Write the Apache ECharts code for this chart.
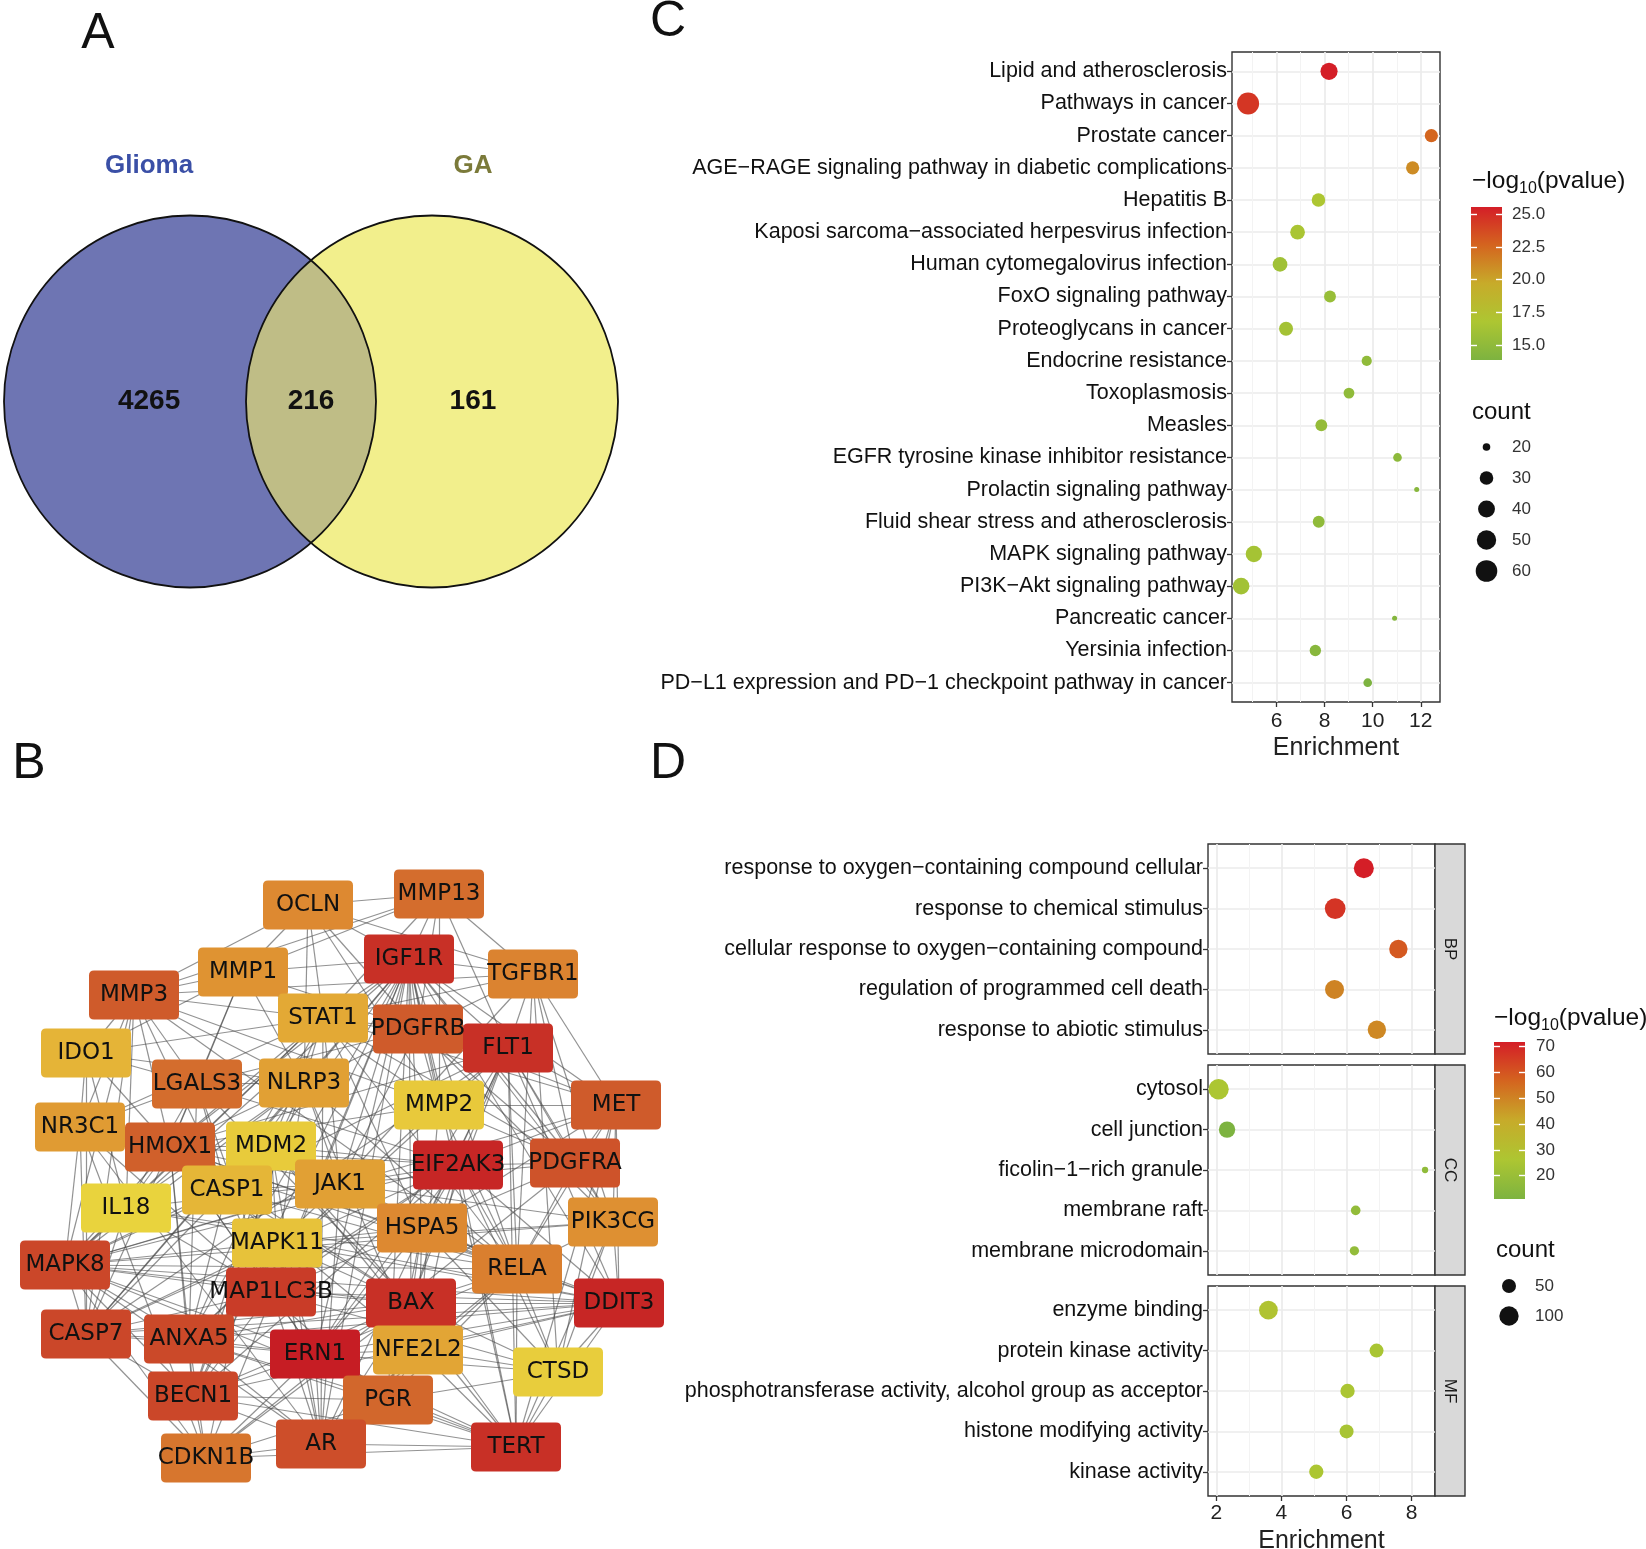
<!DOCTYPE html>
<html><head><meta charset="utf-8">
<script src="https://cdn.jsdelivr.net/npm/echarts@6/dist/echarts.min.js"></script>
<style>html,body{margin:0;padding:0;background:#fff}#c{width:1646px;height:1549px}</style>
</head><body><div id="c"></div>
<script>
// ---------------- DATA ----------------
// Panel A (Venn)
const vennSets = ['Glioma', 'GA'];
const vennCounts = [4265, 216, 161];          // Glioma only, both, GA only

// Panel C (KEGG)
const catC = ['Lipid and atherosclerosis','Pathways in cancer','Prostate cancer',
 'AGE\u2212RAGE signaling pathway in diabetic complications','Hepatitis B',
 'Kaposi sarcoma\u2212associated herpesvirus infection','Human cytomegalovirus infection',
 'FoxO signaling pathway','Proteoglycans in cancer','Endocrine resistance','Toxoplasmosis',
 'Measles','EGFR tyrosine kinase inhibitor resistance','Prolactin signaling pathway',
 'Fluid shear stress and atherosclerosis','MAPK signaling pathway','PI3K\u2212Akt signaling pathway',
 'Pancreatic cancer','Yersinia infection','PD\u2212L1 expression and PD\u22121 checkpoint pathway in cancer'];
const enrichC = [8.18, 4.81, 12.44, 11.66, 7.74, 6.87, 6.14, 8.22, 6.39, 9.75, 9.01, 7.86, 11.03, 11.83, 7.75, 5.05, 4.52, 10.91, 7.61, 9.79];
const pvalC   = [25.58, 24.6, 22.6, 21.0, 16.8, 16.6, 16.0, 15.5, 16.2, 15.0, 15.0, 15.3, 14.8, 14.5, 15.0, 16.3, 16.1, 14.3, 14.5, 13.84];
const countC  = [41, 62, 29, 29, 30, 33, 33, 26, 31, 23, 24, 26, 21, 19, 26, 38, 39, 19, 25, 21];
const xTicksC = [6, 8, 10, 12];
const cbTicksC = [15, 17.5, 20, 22.5, 25];
const sizeLegC = [20, 30, 40, 50, 60];

// Panel D (GO)
const goGroups = ['BP', 'CC', 'MF'];
const catBP = ['response to oxygen\u2212containing compound cellular','response to chemical stimulus',
 'cellular response to oxygen\u2212containing compound','regulation of programmed cell death','response to abiotic stimulus'];
const enrichBP = [6.53, 5.65, 7.59, 5.63, 6.93];
const pvalBP   = [71.7, 67, 59, 50, 49];
const countBP  = [108, 117, 89, 96, 89];
const catCC = ['cytosol','cell junction','ficolin\u22121\u2212rich granule','membrane raft','membrane microdomain'];
const enrichCC = [2.07, 2.33, 8.41, 6.28, 6.24];
const pvalCC   = [26, 11, 17, 18, 18];
const countCC  = [112, 69, 23, 28, 27];
const catMF = ['enzyme binding','protein kinase activity','phosphotransferase activity, alcohol group as acceptor',
 'histone modifying activity','kinase activity'];
const enrichMF = [3.6, 6.92, 6.03, 6.0, 5.07];
const pvalMF   = [28, 25, 25.5, 24.5, 26];
const countMF  = [93, 50, 52, 50, 52];
const xTicksD = [2, 4, 6, 8];
const cbTicksD = [20, 30, 40, 50, 60, 70];
const sizeLegD = [50, 100];

// Panel B (PPI network)
const geneNames = ['OCLN','MMP13','IGF1R','TGFBR1','MMP1','MMP3','STAT1','PDGFRB','FLT1','IDO1',
 'LGALS3','NLRP3','MMP2','MET','NR3C1','HMOX1','MDM2','EIF2AK3','PDGFRA','CASP1',
 'JAK1','IL18','PIK3CG','HSPA5','MAPK11','MAPK8','RELA','MAP1LC3B','BAX','DDIT3',
 'CASP7','ANXA5','ERN1','NFE2L2','CTSD','BECN1','PGR','AR','TERT','CDKN1B'];
// layout positions (network layout units)
const geneX = [308,439,409,533,243,134,323,418,508,86, 197,304,439,616,80,170,271,458,575,227,
 340,126,613,422,277,65,517,271,411,619, 86,189,315,418,558,193,388,321,516,206];
const geneY = [905,894,959,974,972,995,1018,1029,1048,1053, 1084,1083,1105,1105,1127,1147,1146,1165,1163,1190,
 1184,1208,1222,1228,1243,1265,1269,1292,1303,1303, 1334,1339,1354,1350,1372,1396,1400,1444,1447,1458];
// hub score (rank) 0 = low, 1 = high
const geneScore = [0.38,0.53,0.88,0.41,0.32,0.63,0.2,0.63,0.88,0.15, 0.53,0.25,0.05,0.63,0.28,0.6,0.04,0.94,0.67,0.14,
 0.25,0.0,0.34,0.38,0.08,0.74,0.43,0.8,0.88,0.94, 0.74,0.73,1.0,0.22,0.03,0.74,0.56,0.7,0.88,0.48];
const geneEdges = [
 ['IGF1R','MMP13 OCLN TGFBR1 PDGFRB FLT1 MET PDGFRA BAX ERN1 MAP1LC3B HSPA5 RELA JAK1 STAT1 MMP1 NLRP3 EIF2AK3 DDIT3 TERT AR PGR BECN1 MAPK8 HMOX1 ANXA5 CDKN1B CASP7 MDM2 PIK3CG MMP2'],
 ['FLT1','PDGFRB MET PDGFRA MMP2 TGFBR1 MMP13 BAX ERN1 DDIT3 HSPA5 RELA PIK3CG MAPK8 HMOX1 TERT STAT1 AR CASP7 EIF2AK3 ANXA5'],
 ['EIF2AK3','ERN1 DDIT3 HSPA5 BAX MAP1LC3B BECN1 CASP7 MAPK8 NFE2L2 PDGFRA MET HMOX1 ANXA5 RELA TERT JAK1 LGALS3 CTSD MDM2'],
 ['BAX','ERN1 DDIT3 MAP1LC3B BECN1 CASP7 MAPK8 ANXA5 CASP1 MDM2 AR TERT PGR HSPA5 HMOX1 CDKN1B RELA CTSD NFE2L2 LGALS3 MAPK11'],
 ['ERN1','DDIT3 HSPA5 MAP1LC3B BECN1 MAPK8 CASP7 ANXA5 AR TERT NFE2L2 HMOX1 PGR CDKN1B RELA MAPK11 CTSD'],
 ['DDIT3','HSPA5 MAPK8 CASP7 ANXA5 MAP1LC3B BECN1 HMOX1 NFE2L2 TERT RELA MAPK11 PIK3CG MET CTSD IL18'],
 ['TERT','AR PGR BECN1 CDKN1B MAPK8 CTSD RELA MDM2 ANXA5 MET PIK3CG NFE2L2'],
 ['MAP1LC3B','BECN1 CASP7 ANXA5 MAPK8 HMOX1 CTSD LGALS3 NLRP3 CASP1 IL18 MAPK11 HSPA5 AR'],
 ['MAPK8','CASP7 ANXA5 BECN1 MAPK11 JAK1 RELA HMOX1 NR3C1 IL18 CASP1 NLRP3 PIK3CG MET CDKN1B AR STAT1'],
 ['CASP7','ANXA5 BECN1 CASP1 NLRP3 IL18 MAPK11 CDKN1B HMOX1 MMP3 NR3C1 IDO1'],
 ['ANXA5','BECN1 CDKN1B LGALS3 MMP2 AR PGR HMOX1 CASP1 NLRP3'],
 ['BECN1','CDKN1B AR PGR HMOX1 MDM2 NLRP3 MAPK11'],
 ['AR','PGR CDKN1B NR3C1 MDM2 RELA STAT1 JAK1 NFE2L2 MAPK11'],
 ['PDGFRA','PDGFRB MET PIK3CG MMP2 JAK1 STAT1 RELA TGFBR1 HSPA5 CDKN1B'],
 ['PDGFRB','MET PIK3CG MMP2 STAT1 JAK1 MMP13 MMP1 TGFBR1 OCLN NLRP3 LGALS3'],
 ['MET','PIK3CG MMP2 RELA STAT1 HSPA5 TGFBR1 CTSD'],
 ['MMP3','MMP1 MMP13 MMP2 OCLN IDO1 NR3C1 LGALS3 HMOX1 STAT1 IL18 CASP1 NLRP3 TGFBR1 RELA MAPK8'],
 ['HMOX1','NFE2L2 NR3C1 IDO1 LGALS3 NLRP3 MDM2 CASP1 IL18 RELA STAT1 JAK1 MMP1 MMP2'],
 ['MMP13','OCLN MMP1 TGFBR1 MMP2 STAT1'],
 ['OCLN','MMP1 STAT1 MMP2 TGFBR1 NLRP3'],
 ['TGFBR1','STAT1 RELA PIK3CG JAK1 CTSD'],
 ['MMP1','STAT1 MMP2 LGALS3 NLRP3 IDO1'],
 ['STAT1','JAK1 IDO1 NLRP3 RELA IL18 CASP1 NR3C1 MDM2 HSPA5'],
 ['NLRP3','CASP1 IL18 LGALS3 JAK1 NFE2L2 RELA IDO1'],
 ['RELA','NFE2L2 HSPA5 PIK3CG JAK1 CASP1 IL18 MMP2 CTSD PGR NR3C1 MDM2'],
 ['HSPA5','NFE2L2 JAK1 CTSD PGR MAPK11'],
 ['JAK1','PIK3CG MAPK11 CASP1 IL18 MDM2'],
 ['CDKN1B','MDM2 PGR NR3C1'],
 ['PGR','NR3C1 NFE2L2 CTSD'],
 ['NR3C1','IDO1 LGALS3'],
 ['MDM2','MAPK11 CASP1'],
 ['LGALS3','CASP1 IL18 IDO1'],
 ['MAPK11','CASP1 PIK3CG'],
 ['NFE2L2','CTSD MMP2'],
 ['CTSD','PIK3CG'],
 ['IL18','IDO1']
];

// ---------------- STYLE / LAYOUT ----------------
const FONT = '"Liberation Sans", Arial, sans-serif';
const GRAD = ['#7db340', '#adc632', '#c7ab2a', '#d4651f', '#d41e27'];
const NODE_GRAD = ['#e9d33d', '#e3a935', '#dc8530', '#d0602b', '#c93c28', '#c61d24'];
const rangeC = [13.84, 25.58];
const rangeD = [11, 71.7];
const cMinC = Math.min(...countC), cMaxC = Math.max(...countC);
const allD = countBP.concat(countCC, countMF);
const cMinD = Math.min(...allD), cMaxD = Math.max(...allD);
const sizeC = v => 5 + 17 * Math.sqrt(Math.max(0, v - cMinC) / (cMaxC - cMinC));
const sizeD = v => 6.3 + 14.4 * Math.sqrt(Math.max(0, v - cMinD) / (cMaxD - cMinD));

const grids = [], xAxes = [], yAxes = [], series = [], graphics = [];
const addGrid = g => { g.outerBoundsMode = 'none'; g.containLabel = false; grids.push(g); return grids.length - 1; };
const addX = a => { xAxes.push(a); return xAxes.length - 1; };
const addY = a => { yAxes.push(a); return yAxes.length - 1; };

function majorX(grid, min, max, ticks, showLab, margin, gap) {
  return {type: 'value', gridIndex: grid, min, max, position: 'bottom',
    axisLine: {show: false, onZero: false},
    axisTick: {show: showLab, length: 5, lineStyle: {color: '#333', width: 1.3}, customValues: ticks},
    axisLabel: {show: showLab, customValues: ticks, fontSize: 21, color: '#222', margin, fontFamily: FONT},
    splitLine: {show: true, lineStyle: {color: '#ebebeb', width: 1.7}},
    name: showLab ? 'Enrichment' : '', nameLocation: 'middle', nameGap: gap,
    nameTextStyle: {fontSize: 25, color: '#222', fontFamily: FONT}};
}
function minorX(grid, min, max, ticks) {
  return {type: 'value', gridIndex: grid, min, max, position: 'top',
    axisLine: {show: false, onZero: false}, axisTick: {show: false, customValues: ticks},
    axisLabel: {show: false, customValues: ticks},
    splitLine: {show: true, lineStyle: {color: '#f3f3f3', width: 1}}};
}
function catY(grid, cats) {
  const idx = cats.map((c, i) => i);
  return {type: 'value', gridIndex: grid, min: -0.6, max: cats.length - 0.4, inverse: true,
    axisLine: {show: false, onZero: false},
    axisTick: {show: true, length: 5, lineStyle: {color: '#333', width: 1.3}, customValues: idx},
    axisLabel: {customValues: idx, formatter: v => cats[Math.round(v)], fontSize: 21.5, color: '#111', margin: 5, fontFamily: FONT},
    splitLine: {show: true, lineStyle: {color: '#ebebeb', width: 1.7}}};
}
function colorbar(left, top, h, range, ticks, fmt, margin) {
  const g = addGrid({left, top, width: 31, height: h});
  const x = addX({type: 'category', gridIndex: g, data: [''], show: false});
  const tick = {show: true, inside: true, length: 6, lineStyle: {color: '#fff', width: 1.4}, customValues: ticks};
  const y = addY({type: 'value', gridIndex: g, min: range[0], max: range[1], position: 'left', z: 10,
    axisLine: {show: false, onZero: false}, axisTick: tick, axisLabel: {show: false, customValues: ticks}, splitLine: {show: false}});
  addY({type: 'value', gridIndex: g, min: range[0], max: range[1], position: 'right', z: 10,
    axisLine: {show: false, onZero: false}, axisTick: tick,
    axisLabel: {show: true, customValues: ticks, formatter: fmt, fontSize: 17, color: '#333', margin, fontFamily: FONT},
    splitLine: {show: false}});
  series.push({type: 'custom', xAxisIndex: x, yAxisIndex: y, silent: true, z: 1,
    data: [[0, range[0], range[1]]], encode: {x: 0, y: [1, 2]},
    renderItem: (params, api) => {
      const cs = params.coordSys;
      const yb = api.coord([0, api.value(1)])[1], yt = api.coord([0, api.value(2)])[1];
      return {type: 'rect', shape: {x: cs.x, y: yt, width: cs.width, height: yb - yt},
        style: {fill: new echarts.graphic.LinearGradient(0, 1, 0, 0,
          GRAD.map((c, i) => ({offset: i / (GRAD.length - 1), color: c})))}};
    }});
}
function sizeLegend(left, top, w, rowH, vals, fn, margin) {
  const g = addGrid({left, top, width: w, height: rowH * vals.length});
  const x = addX({type: 'category', gridIndex: g, data: [''], show: false});
  const y = addY({type: 'category', gridIndex: g, data: vals.map(String), inverse: true, position: 'right',
    axisLine: {show: false}, axisTick: {show: false}, splitLine: {show: false},
    axisLabel: {fontSize: 17, color: '#333', margin, fontFamily: FONT}});
  series.push({type: 'scatter', xAxisIndex: x, yAxisIndex: y, silent: true,
    data: vals.map((v, i) => [0, i, v]), symbolSize: d => fn(d[2]), itemStyle: {color: '#111', opacity: 1}});
}

// ---------- Panel C ----------
const gC = addGrid({left: 1232, top: 52, width: 208, height: 650, show: true, backgroundColor: '#fff', borderColor: '#333', borderWidth: 1.4});
const xC = addX(majorX(gC, 4.14, 12.8, xTicksC, true, 9, 34));
addX(minorX(gC, 4.14, 12.8, [5, 7, 9, 11]));
const yC = addY(catY(gC, catC));
series.push({type: 'scatter', xAxisIndex: xC, yAxisIndex: yC, z: 5,
  data: catC.map((c, i) => [enrichC[i], i, pvalC[i], countC[i]]),
  symbolSize: d => sizeC(d[3]), itemStyle: {opacity: 1}});
const sC = series.length - 1;
colorbar(1471, 207, 153, rangeC, cbTicksC, v => Number(v).toFixed(1), 10);
sizeLegend(1471, 431.5, 31, 31, sizeLegC, sizeC, 10);

// ---------- Panel D ----------
const dCats = [catBP, catCC, catMF], dEn = [enrichBP, enrichCC, enrichMF], dP = [pvalBP, pvalCC, pvalMF], dN = [countBP, countCC, countMF];
const dTops = [844, 1065, 1286], dH = 210;
const sD = [];
goGroups.forEach((grp, k) => {
  const g = addGrid({left: 1208, top: dTops[k], width: 227, height: dH, show: true, backgroundColor: '#fff', borderColor: '#333', borderWidth: 1.4});
  const last = k === goGroups.length - 1;
  const x = addX(majorX(g, 1.745, 8.715, xTicksD, last, 7, 33));
  addX(minorX(g, 1.745, 8.715, [3, 5, 7]));
  const y = addY(catY(g, dCats[k]));
  series.push({type: 'scatter', xAxisIndex: x, yAxisIndex: y, z: 5,
    data: dCats[k].map((c, i) => [dEn[k][i], i, dP[k][i], dN[k][i]]),
    symbolSize: d => sizeD(d[3]), itemStyle: {opacity: 1}});
  sD.push(series.length - 1);
  const gs = addGrid({left: 1435, top: dTops[k], width: 30, height: dH, show: true, backgroundColor: '#d9d9d9', borderColor: '#333', borderWidth: 1.4});
  addX({type: 'value', gridIndex: gs, show: false});
  addY({type: 'value', gridIndex: gs, show: false});
  graphics.push({type: 'text', x: 1450, y: dTops[k] + dH / 2, rotation: -Math.PI / 2,
    style: {text: grp, fontSize: 17, fill: '#1a1a1a', align: 'center', verticalAlign: 'middle', fontFamily: FONT}});
});
colorbar(1494, 1042, 157, rangeD, cbTicksD, v => String(v), 11);
sizeLegend(1494, 1271, 30, 30, sizeLegD, sizeD, 11);

// ---------- Panel A (Venn) ----------
const gV = addGrid({left: 0, top: 0, width: 640, height: 640});
const xV = addX({type: 'value', gridIndex: gV, min: 0, max: 640, show: false});
const yV = addY({type: 'value', gridIndex: gV, min: 0, max: 640, inverse: true, show: false});
const vennLayout = {c1: [190, 401.5], c2: [432, 401.5], r: 186};
const vennColors = ['#6e75b3', '#bfbd86', '#f2ef8c'];
const vennNameColors = ['#3a4fa6', '#7b7a3a'];
series.push({type: 'custom', xAxisIndex: xV, yAxisIndex: yV, silent: true, z: 2,
  data: vennCounts.map((c, i) => [i, c]),
  renderItem: (params, api) => {
    const k = api.value(0), cnt = api.value(1);
    const p1 = api.coord(vennLayout.c1), p2 = api.coord(vennLayout.c2);
    const r = api.size([vennLayout.r, 0])[0];
    const numStyle = {fontSize: 28, fontWeight: 'bold', fill: '#111', align: 'center', verticalAlign: 'middle', fontFamily: FONT};
    const nameStyle = t => ({text: vennSets[t], fontSize: 26, fontWeight: 'bold', fill: vennNameColors[t], align: 'center', verticalAlign: 'middle', fontFamily: FONT});
    if (k === 0) {
      const lx = p1[0] - 0.22 * r;
      return {type: 'group', children: [
        {type: 'circle', shape: {cx: p1[0], cy: p1[1], r}, style: {fill: vennColors[0]}, z2: 0},
        {type: 'text', x: lx, y: p1[1], style: Object.assign({text: String(cnt)}, numStyle), z2: 5},
        {type: 'text', x: lx, y: p1[1] - 1.266 * r, style: nameStyle(0), z2: 5}]};
    }
    if (k === 2) {
      const lx = p2[0] + 0.22 * r;
      return {type: 'group', children: [
        {type: 'circle', shape: {cx: p2[0], cy: p2[1], r}, style: {fill: vennColors[2]}, z2: 0},
        {type: 'text', x: lx, y: p2[1], style: Object.assign({text: String(cnt)}, numStyle), z2: 5},
        {type: 'text', x: lx, y: p2[1] - 1.266 * r, style: nameStyle(1), z2: 5}]};
    }
    const a = (p2[0] - p1[0]) / 2, h = Math.sqrt(r * r - a * a), mx = p1[0] + a;
    const path = `M${mx},${p1[1] - h} A${r},${r} 0 0 1 ${mx},${p1[1] + h} A${r},${r} 0 0 1 ${mx},${p1[1] - h} Z`;
    return {type: 'group', children: [
      {type: 'path', shape: {pathData: path}, style: {fill: vennColors[1]}, z2: 2},
      {type: 'circle', shape: {cx: p1[0], cy: p1[1], r}, style: {fill: null, stroke: '#111', lineWidth: 1.8}, z2: 3},
      {type: 'circle', shape: {cx: p2[0], cy: p2[1], r}, style: {fill: null, stroke: '#111', lineWidth: 1.8}, z2: 3},
      {type: 'text', x: mx, y: p1[1], style: Object.assign({text: String(cnt)}, numStyle), z2: 5}]};
  }});

// ---------- Panel B (network) ----------
const gN = addGrid({left: 0, top: 820, width: 660, height: 700});
const xN = addX({type: 'value', gridIndex: gN, min: 0, max: 660, show: false});
const yN = addY({type: 'value', gridIndex: gN, min: 820, max: 1520, inverse: true, show: false});
const links = [];
geneEdges.forEach(([s, ts]) => ts.split(' ').forEach(t => links.push({source: s, target: t})));
series.push({type: 'graph', coordinateSystem: 'cartesian2d', xAxisIndex: xN, yAxisIndex: yN, z: 3,
  data: geneNames.map((n, i) => ({name: n, value: [geneX[i], geneY[i]],
    itemStyle: {color: echarts.color.lerp(geneScore[i], NODE_GRAD)}})),
  links,
  symbol: 'path://M5,0 H85 Q90,0 90,5 V44 Q90,49 85,49 H5 Q0,49 0,44 V5 Q0,0 5,0 Z',
  symbolSize: [90, 49],
  label: {show: true, position: 'inside', fontSize: 23, color: '#111', fontFamily: '"DejaVu Sans", sans-serif'},
  lineStyle: {color: '#4a4a4a', opacity: 0.6, width: 1.2},
  emphasis: {disabled: true}, silent: true});

// ---------- panel letters & legend titles ----------
[['A', 98, 34], ['C', 668, 22], ['B', 29, 764], ['D', 668, 764]].forEach(([t, x, y]) =>
  graphics.push({type: 'text', x, y, style: {text: t, fontSize: 50, fill: '#111', align: 'center', verticalAlign: 'middle', fontFamily: FONT}}));
const richTitle = {a: {fontSize: 24.5, lineHeight: 32, verticalAlign: 'middle', fontFamily: FONT, fill: '#111'},
                   b: {fontSize: 16, lineHeight: 16, verticalAlign: 'bottom', fontFamily: FONT, fill: '#111'}};
graphics.push({type: 'text', x: 1472, y: 181, style: {text: '{a|\u2212log}{b|10}{a|(pvalue)}', rich: richTitle, verticalAlign: 'middle', align: 'left'}});
graphics.push({type: 'text', x: 1472, y: 412, style: {text: 'count', fontSize: 24, fill: '#111', verticalAlign: 'middle', fontFamily: FONT}});
graphics.push({type: 'text', x: 1494, y: 1018, style: {text: '{a|\u2212log}{b|10}{a|(pvalue)}', rich: richTitle, verticalAlign: 'middle', align: 'left'}});
graphics.push({type: 'text', x: 1496, y: 1250, style: {text: 'count', fontSize: 24, fill: '#111', verticalAlign: 'middle', fontFamily: FONT}});

const chart = echarts.init(document.getElementById('c'), null, {renderer: 'canvas'});
chart.setOption({
  animation: false,
  backgroundColor: '#fff',
  textStyle: {fontFamily: FONT},
  grid: grids, xAxis: xAxes, yAxis: yAxes,
  visualMap: [
    {type: 'continuous', show: false, seriesIndex: [sC], dimension: 2, min: rangeC[0], max: rangeC[1], inRange: {color: GRAD}},
    {type: 'continuous', show: false, seriesIndex: sD, dimension: 2, min: rangeD[0], max: rangeD[1], inRange: {color: GRAD}}
  ],
  graphic: {elements: graphics},
  series
});
</script></body></html>
